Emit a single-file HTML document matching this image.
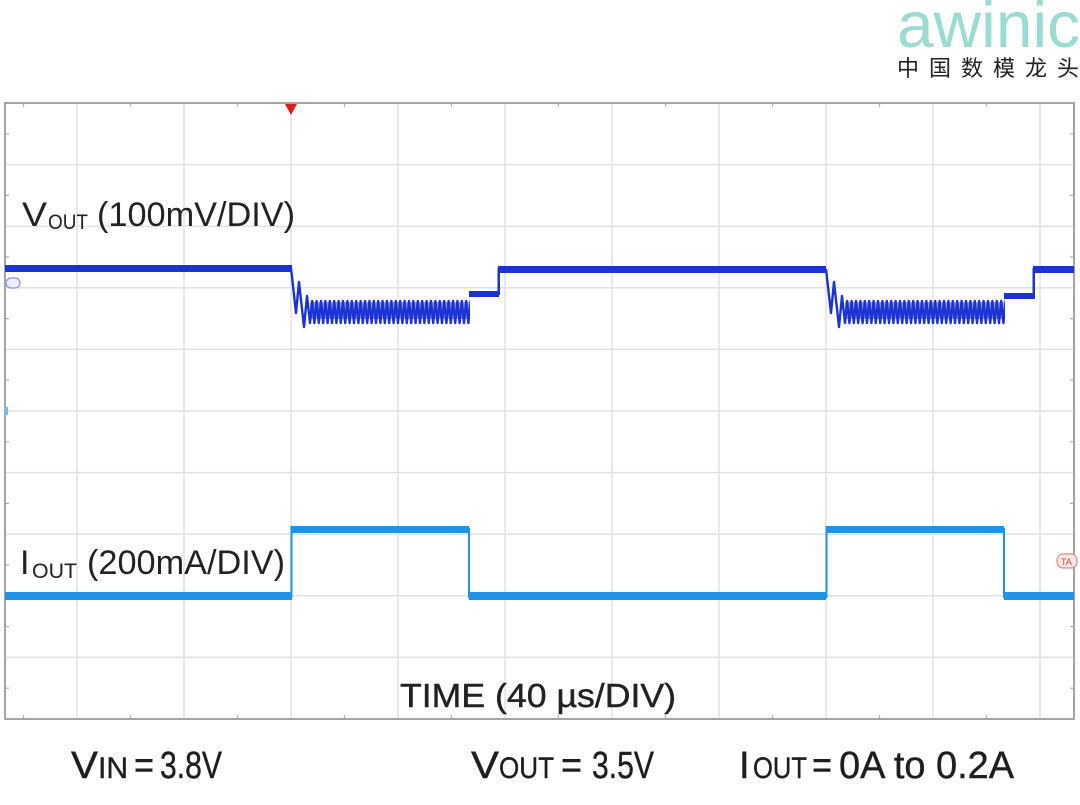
<!DOCTYPE html>
<html><head><meta charset="utf-8"><style>
html,body{margin:0;padding:0;background:#fff;}
svg{display:block;}
</style></head><body>
<svg width="1080" height="805" viewBox="0 0 1080 805" xmlns="http://www.w3.org/2000/svg">
<defs>
<clipPath id="c1"><rect x="290" y="250" width="180" height="90"/></clipPath>
<clipPath id="c2"><rect x="825" y="250" width="180" height="90"/></clipPath>
</defs>
<rect width="1080" height="805" fill="#fff"/>
<!-- logo -->
<text x="897" y="47" font-family="Liberation Sans, sans-serif" font-size="65" fill="#9adbd2" textLength="183" lengthAdjust="spacingAndGlyphs">awinic</text>
<g font-family="Liberation Sans, Noto Sans CJK SC, sans-serif" font-size="22" fill="#222">
<text x="897" y="76">中</text>
<text x="929" y="76">国</text>
<text x="961" y="76">数</text>
<text x="993" y="76">模</text>
<text x="1025" y="76">龙</text>
<text x="1057" y="76">头</text>
</g>
<!-- grid -->
<g stroke="#e2e2e2" stroke-width="1.5">
<line x1="77" y1="103" x2="77" y2="719"/>
<line x1="184" y1="103" x2="184" y2="719"/>
<line x1="291" y1="103" x2="291" y2="719"/>
<line x1="398" y1="103" x2="398" y2="719"/>
<line x1="505" y1="103" x2="505" y2="719"/>
<line x1="612" y1="103" x2="612" y2="719"/>
<line x1="719" y1="103" x2="719" y2="719"/>
<line x1="826" y1="103" x2="826" y2="719"/>
<line x1="933" y1="103" x2="933" y2="719"/>
<line x1="1040" y1="103" x2="1040" y2="719"/>
<line x1="5" y1="164.6" x2="1074" y2="164.6"/>
<line x1="5" y1="226.2" x2="1074" y2="226.2"/>
<line x1="5" y1="287.8" x2="1074" y2="287.8"/>
<line x1="5" y1="349.4" x2="1074" y2="349.4"/>
<line x1="5" y1="411" x2="1074" y2="411"/>
<line x1="5" y1="472.6" x2="1074" y2="472.6"/>
<line x1="5" y1="534.2" x2="1074" y2="534.2"/>
<line x1="5" y1="595.8" x2="1074" y2="595.8"/>
<line x1="5" y1="657.4" x2="1074" y2="657.4"/>
</g>
<!-- minor ticks -->
<g stroke="#b0b0b0" stroke-width="1.2">
<path d="M23.5,103v4M130.5,103v4M237.5,103v4M344.5,103v4M451.5,103v4M558.5,103v4M665.5,103v4M772.5,103v4M879.5,103v4M986.5,103v4"/>
<path d="M23.5,719v-4M130.5,719v-4M237.5,719v-4M344.5,719v-4M451.5,719v-4M558.5,719v-4M665.5,719v-4M772.5,719v-4M879.5,719v-4M986.5,719v-4"/>
<path d="M5,133.8h4M5,195.4h4M5,257h4M5,318.6h4M5,380.2h4M5,441.8h4M5,503.4h4M5,565h4M5,626.6h4M5,688.2h4"/>
<path d="M1074,133.8h-4M1074,195.4h-4M1074,257h-4M1074,318.6h-4M1074,380.2h-4M1074,441.8h-4M1074,503.4h-4M1074,565h-4M1074,626.6h-4M1074,688.2h-4"/>
</g>
<!-- border -->
<rect x="5" y="103" width="1069" height="616" fill="none" stroke="#a4a4a4" stroke-width="2"/>
<!-- trigger marker -->
<polygon points="285,104 297,104 291,115" fill="#d81e1e"/>
<!-- ch1 marker -->
<rect x="6" y="278" width="14" height="10" rx="5" fill="#eef0ff" stroke="#8a90e0" stroke-width="1.2"/>
<!-- ground tick -->
<rect x="4" y="407" width="4" height="8" fill="#7fb7e8"/>
<!-- TA badge -->
<rect x="1057" y="554" width="20" height="14" rx="6" fill="#fde6e6" stroke="#e08a8a" stroke-width="1.2"/>
<text x="1061" y="565" font-family="Liberation Sans, sans-serif" font-size="9" fill="#d05050">TA</text>

<!-- VOUT trace -->
<g fill="#1b33d3">
<rect x="5" y="265" width="287" height="7"/>
<rect x="469" y="291" width="30" height="6"/>
<rect x="498" y="266" width="328" height="7"/>
<rect x="1004" y="293" width="31" height="6"/>
<rect x="1033" y="266" width="41" height="7"/>
<rect x="497.5" y="268" width="2.5" height="27"/>
<rect x="1032.5" y="268" width="2.5" height="29"/>
</g>
<g fill="#1b33d3" opacity="0.45">
<rect x="310" y="302" width="159" height="17"/>
<rect x="845" y="302" width="159" height="17"/>
</g>
<g fill="none" stroke="#1b33d3" stroke-width="2.4" stroke-linejoin="round">
<path clip-path="url(#c1)" d="M291,268 L296,313 L299,282 L304,327 L307,296 L310,323 l2.2,-22 l2.2,22 l2.2,-22 l2.2,22 l2.2,-22 l2.2,22 l2.2,-22 l2.2,22 l2.2,-22 l2.2,22 l2.2,-22 l2.2,22 l2.2,-22 l2.2,22 l2.2,-22 l2.2,22 l2.2,-22 l2.2,22 l2.2,-22 l2.2,22 l2.2,-22 l2.2,22 l2.2,-22 l2.2,22 l2.2,-22 l2.2,22 l2.2,-22 l2.2,22 l2.2,-22 l2.2,22 l2.2,-22 l2.2,22 l2.2,-22 l2.2,22 l2.2,-22 l2.2,22 l2.2,-22 l2.2,22 l2.2,-22 l2.2,22 l2.2,-22 l2.2,22 l2.2,-22 l2.2,22 l2.2,-22 l2.2,22 l2.2,-22 l2.2,22 l2.2,-22 l2.2,22 l2.2,-22 l2.2,22 l2.2,-22 l2.2,22 l2.2,-22 l2.2,22 l2.2,-22 l2.2,22 l2.2,-22 l2.2,22 l2.2,-22 l2.2,22 l2.2,-22 l2.2,22 l2.2,-22 l2.2,22 l2.2,-22 l2.2,22 l2.2,-22 l2.2,22 l2.2,-22 l2.2,22 l2.2,-22 l2.2,22 l2.2,-22 l2.2,22 l2.2,-22 l2.2,22 l2.2,-22 l2.2,22 l2.2,-22 l2.2,22 l2.2,-22 l2.2,22"/>
<path clip-path="url(#c2)" d="M826,269 L831,313 L834,282 L839,327 L842,296 L845,323 l2.2,-22 l2.2,22 l2.2,-22 l2.2,22 l2.2,-22 l2.2,22 l2.2,-22 l2.2,22 l2.2,-22 l2.2,22 l2.2,-22 l2.2,22 l2.2,-22 l2.2,22 l2.2,-22 l2.2,22 l2.2,-22 l2.2,22 l2.2,-22 l2.2,22 l2.2,-22 l2.2,22 l2.2,-22 l2.2,22 l2.2,-22 l2.2,22 l2.2,-22 l2.2,22 l2.2,-22 l2.2,22 l2.2,-22 l2.2,22 l2.2,-22 l2.2,22 l2.2,-22 l2.2,22 l2.2,-22 l2.2,22 l2.2,-22 l2.2,22 l2.2,-22 l2.2,22 l2.2,-22 l2.2,22 l2.2,-22 l2.2,22 l2.2,-22 l2.2,22 l2.2,-22 l2.2,22 l2.2,-22 l2.2,22 l2.2,-22 l2.2,22 l2.2,-22 l2.2,22 l2.2,-22 l2.2,22 l2.2,-22 l2.2,22 l2.2,-22 l2.2,22 l2.2,-22 l2.2,22 l2.2,-22 l2.2,22 l2.2,-22 l2.2,22 l2.2,-22 l2.2,22 l2.2,-22 l2.2,22 l2.2,-22 l2.2,22 l2.2,-22 l2.2,22 l2.2,-22 l2.2,22 l2.2,-22 l2.2,22 l2.2,-22 l2.2,22 l2.2,-22 l2.2,22"/>
</g>

<!-- IOUT trace -->
<g fill="#2093e6">
<rect x="5" y="592" width="287" height="8"/>
<rect x="290.5" y="526" width="2" height="72"/>
<rect x="291" y="526" width="178" height="7"/>
<rect x="468" y="528" width="2" height="70"/>
<rect x="469" y="592" width="357" height="8"/>
<rect x="825.5" y="526" width="2" height="72"/>
<rect x="826" y="526" width="178" height="7"/>
<rect x="1003" y="528" width="2" height="70"/>
<rect x="1004" y="592" width="70" height="8"/>
</g>

<!-- labels -->
<g font-family="Liberation Sans, sans-serif" fill="#222">
<text x="22" y="226" font-size="34" textLength="25" lengthAdjust="spacingAndGlyphs">V</text>
<text x="48" y="229" font-size="21" textLength="40" lengthAdjust="spacingAndGlyphs">OUT</text>
<text x="97" y="226" font-size="34" textLength="198" lengthAdjust="spacingAndGlyphs">(100mV/DIV)</text>

<text x="20" y="574" font-size="34">I</text>
<text x="32" y="578" font-size="21" textLength="45" lengthAdjust="spacingAndGlyphs">OUT</text>
<text x="87" y="574" font-size="34" textLength="198" lengthAdjust="spacingAndGlyphs">(200mA/DIV)</text>

<text x="400" y="707" font-size="33" textLength="276" lengthAdjust="spacingAndGlyphs" stroke="#222" stroke-width="0.4">TIME (40 µs/DIV)</text>
</g>

<!-- footer -->
<g font-family="Liberation Sans, sans-serif" fill="#1e1e1e" stroke="#1e1e1e" stroke-width="0.4">
<text x="71" y="778" font-size="38" textLength="27" lengthAdjust="spacingAndGlyphs">V</text>
<text x="98" y="778" font-size="30" textLength="30" lengthAdjust="spacingAndGlyphs">IN</text>
<text x="134" y="778" font-size="38" textLength="20" lengthAdjust="spacingAndGlyphs">=</text>
<text x="160" y="778" font-size="38" textLength="62" lengthAdjust="spacingAndGlyphs">3.8V</text>

<text x="471" y="778" font-size="38" textLength="28" lengthAdjust="spacingAndGlyphs">V</text>
<text x="499" y="778" font-size="30" textLength="55" lengthAdjust="spacingAndGlyphs">OUT</text>
<text x="561" y="778" font-size="38" textLength="21" lengthAdjust="spacingAndGlyphs">=</text>
<text x="592" y="778" font-size="38" textLength="62" lengthAdjust="spacingAndGlyphs">3.5V</text>

<text x="739" y="778" font-size="38">I</text>
<text x="753" y="778" font-size="30" textLength="54" lengthAdjust="spacingAndGlyphs">OUT</text>
<text x="812" y="778" font-size="38" textLength="20" lengthAdjust="spacingAndGlyphs">=</text>
<text x="839" y="778" font-size="38" textLength="175" lengthAdjust="spacingAndGlyphs">0A to 0.2A</text>
</g>
</svg>
</body></html>
